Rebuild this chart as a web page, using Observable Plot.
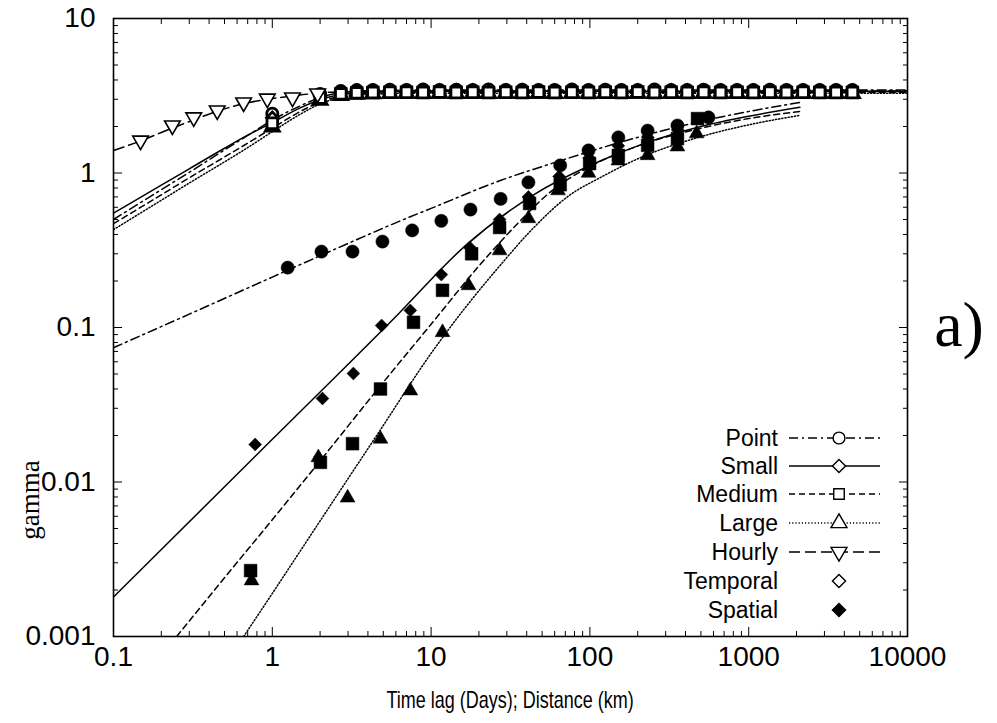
<!DOCTYPE html>
<html><head><meta charset="utf-8">
<script src="https://cdn.jsdelivr.net/npm/d3@7"></script>
<script src="https://cdn.jsdelivr.net/npm/@observablehq/plot@0.6"></script>
<style>
body{margin:0;background:#fff;}
#wrap{position:relative;width:997px;height:723px;}
#overlay{position:absolute;left:0;top:0;pointer-events:none;}
</style></head><body><div id="wrap"></div>
<script>
// ---- tick labels ----
const xMajor = [0.1, 1, 10, 100, 1000, 10000];
const yMajor = [0.001, 0.01, 0.1, 1, 10];
const xLabel = "Time lag (Days); Distance (km)";
const yLabel = "gamma";
const panelTag = "a)";
const legendNames = ["Point", "Small", "Medium", "Large", "Hourly", "Temporal", "Spatial"];

// ---- temporal (open markers) ----
const temporalX = [1, 2, 2.7, 3.4, 4.3, 5.5, 7, 8.9, 11.3, 14.4, 18.3, 23, 29.5, 37.5, 47.5, 60, 77, 98, 125, 158, 200, 255, 325, 410, 520, 665, 845, 1070, 1360, 1730, 2200, 2800, 3550, 4500];
const pointTemporalY  = [2.42, 3.25, 3.4, 3.44, 3.45, 3.46, 3.45, 3.47, 3.45, 3.46, 3.45, 3.47, 3.45, 3.46, 3.45, 3.45, 3.47, 3.45, 3.46, 3.45, 3.45, 3.47, 3.45, 3.45, 3.46, 3.45, 3.45, 3.45, 3.46, 3.45, 3.45, 3.45, 3.45, 3.45];
const smallTemporalY  = [2.28, 3.15, 3.33, 3.37, 3.38, 3.39, 3.38, 3.39, 3.4, 3.38, 3.39, 3.38, 3.39, 3.38, 3.4, 3.38, 3.39, 3.38, 3.39, 3.38, 3.4, 3.38, 3.39, 3.38, 3.39, 3.38, 3.39, 3.38, 3.39, 3.38, 3.39, 3.38, 3.38, 3.38];
const mediumTemporalY = [2.1, 3.05, 3.25, 3.3, 3.32, 3.33, 3.33, 3.32, 3.34, 3.32, 3.33, 3.32, 3.33, 3.32, 3.34, 3.32, 3.33, 3.32, 3.33, 3.32, 3.34, 3.32, 3.33, 3.32, 3.33, 3.32, 3.33, 3.32, 3.33, 3.32, 3.33, 3.32, 3.32, 3.32];
const largeTemporalY  = [1.98, 2.95, 3.17, 3.23, 3.26, 3.27, 3.28, 3.27, 3.28, 3.27, 3.28, 3.27, 3.28, 3.27, 3.28, 3.27, 3.28, 3.27, 3.28, 3.27, 3.28, 3.27, 3.28, 3.27, 3.28, 3.27, 3.28, 3.27, 3.28, 3.27, 3.28, 3.27, 3.27, 3.27];
const hourlyX = [0.148, 0.235, 0.32, 0.45, 0.66, 0.93, 1.34, 1.93];
const hourlyY = [1.62, 2.03, 2.29, 2.54, 2.86, 3.03, 3.08, 3.27];

// ---- spatial (filled markers) ----
const pointSpatialX  = [1.25, 2.04, 3.2, 4.94, 7.6, 11.6, 17.7, 27.4, 41, 65, 98, 151, 231, 356, 558];
const pointSpatialY  = [0.244, 0.31, 0.31, 0.36, 0.425, 0.49, 0.58, 0.68, 0.87, 1.12, 1.4, 1.7, 1.88, 2.03, 2.29];
const smallSpatialX  = [0.78, 2.07, 3.24, 4.88, 7.4, 11.6, 17.5, 27, 41, 64, 99, 151, 232, 357];
const smallSpatialY  = [0.0175, 0.0347, 0.0504, 0.103, 0.129, 0.22, 0.33, 0.5, 0.7, 0.95, 1.25, 1.5, 1.7, 1.9];
const mediumSpatialX = [0.73, 2.01, 3.2, 4.8, 7.75, 11.8, 18, 27, 41.7, 65, 99.6, 151, 231, 356, 476];
const mediumSpatialY = [0.00267, 0.0134, 0.0177, 0.04, 0.108, 0.174, 0.3, 0.444, 0.635, 0.84, 1.15, 1.3, 1.51, 1.67, 2.25];
const largeSpatialX  = [0.74, 1.95, 2.98, 4.8, 7.4, 11.8, 17.2, 27, 41, 63, 98, 151, 231, 356, 470];
const largeSpatialY  = [0.0023, 0.0144, 0.0079, 0.019, 0.039, 0.093, 0.187, 0.315, 0.508, 0.77, 1.0, 1.2, 1.3, 1.48, 1.8];

// ---- fitted curves ----
const tempFitX = [0.1, 0.2, 0.3, 0.5, 0.7, 1, 1.5, 2, 3, 5, 10, 100, 10000];
const pointTempFitY  = [0.5, 0.78, 1.01, 1.41, 1.75, 2.2, 2.72, 3.08, 3.36, 3.43, 3.44, 3.44, 3.44];
const smallTempFitY  = [0.55, 0.834, 1.064, 1.446, 1.757, 2.12, 2.64, 2.98, 3.27, 3.36, 3.38, 3.38, 3.38];
const mediumTempFitY = [0.47, 0.722, 0.931, 1.27, 1.56, 1.95, 2.5, 2.88, 3.2, 3.3, 3.33, 3.33, 3.33];
const largeTempFitY  = [0.43, 0.666, 0.861, 1.18, 1.46, 1.85, 2.4, 2.8, 3.14, 3.25, 3.28, 3.28, 3.28];
const hourlyFitX = [0.1, 0.15, 0.2, 0.3, 0.5, 0.7, 1, 1.5, 2, 3, 5, 10000];
const hourlyFitY = [1.4, 1.62, 1.83, 2.15, 2.6, 2.85, 3.03, 3.2, 3.3, 3.36, 3.39, 3.4];

const pointSpFitX  = [0.1, 0.3, 1, 3, 6.4, 10, 27, 65, 208, 600, 2100];
const pointSpFitY  = [0.074, 0.122, 0.212, 0.35, 0.49, 0.59, 0.89, 1.2, 1.72, 2.25, 2.86];
const smallSpFitX  = [0.1, 1, 6.2, 16, 44, 117, 208, 500, 1000, 2100];
const smallSpFitY  = [0.0018, 0.0189, 0.122, 0.33, 0.72, 1.2, 1.52, 2.0, 2.33, 2.66];
const mediumSpFitX = [0.25, 0.5, 1, 2, 4.8, 10, 20, 35, 56, 100, 188, 500, 1000, 2100];
const mediumSpFitY = [0.001, 0.0024, 0.0057, 0.0137, 0.042, 0.105, 0.25, 0.47, 0.75, 1.1, 1.46, 1.95, 2.25, 2.5];
const largeSpFitX  = [0.66, 1, 2, 4.6, 10, 16, 27, 44, 72, 120, 188, 500, 1000, 2100];
const largeSpFitY  = [0.001, 0.0019, 0.0056, 0.0204, 0.068, 0.13, 0.25, 0.44, 0.7, 0.95, 1.2, 1.72, 2.05, 2.36];

// ---- build ----
const rows = (xs, ys) => xs.map((x, i) => ({x, y: ys[i]}));
const minorOf = (lo, hi) => { const out = []; for (let d = lo; d < hi; d *= 10) for (let k = 2; k <= 9; k++) out.push(+(d * k).toPrecision(3)); return out; };
const xMinor = minorOf(0.1, 10000);
const yMinor = minorOf(0.001, 10);

const sans = "'Liberation Sans', Arial, Helvetica, sans-serif";
const serif = "'Liberation Serif', 'Times New Roman', serif";

const dash = {point: "9,4,2,4", small: null, medium: "6,4", large: "1.2,2", hourly: "11,5"};
const lineOpt = (d) => ({x: "x", y: "y", stroke: "black", strokeWidth: 1.5, strokeDasharray: d, curve: "monotone-x", clip: true});

const openDot = (data, symbol, r, extra = {}) => Plot.dot(data, {x: "x", y: "y", symbol, r, fill: "white", stroke: "black", strokeWidth: 2.8, ...extra});
const fillDot = (data, symbol, r) => Plot.dot(data, {x: "x", y: "y", symbol, r, fill: "black", stroke: "black", strokeWidth: 0.5});

const blank = () => "";

const chart = Plot.plot({
  width: 997, height: 723,
  marginLeft: 113, marginRight: 90, marginTop: 18, marginBottom: 87,
  x: {type: "log", domain: [0.1, 10000]},
  y: {type: "log", domain: [0.001, 10]},
  style: {background: "white", fontFamily: sans, color: "black"},
  marks: [
    // fits
    Plot.line(rows(tempFitX, pointTempFitY), lineOpt(dash.point)),
    Plot.line(rows(tempFitX, smallTempFitY), lineOpt(dash.small)),
    Plot.line(rows(tempFitX, mediumTempFitY), lineOpt(dash.medium)),
    Plot.line(rows(tempFitX, largeTempFitY), lineOpt(dash.large)),
    Plot.line(rows(hourlyFitX, hourlyFitY), lineOpt(dash.hourly)),
    Plot.line(rows(pointSpFitX, pointSpFitY), lineOpt(dash.point)),
    Plot.line(rows(smallSpFitX, smallSpFitY), lineOpt(dash.small)),
    Plot.line(rows(mediumSpFitX, mediumSpFitY), lineOpt(dash.medium)),
    Plot.line(rows(largeSpFitX, largeSpFitY), lineOpt(dash.large)),
    // temporal markers
    openDot(rows(temporalX, pointTemporalY), "circle", 5.6),
    openDot(rows(temporalX, smallTemporalY), "diamond2", 5.2),
    openDot(rows(temporalX, largeTemporalY), "triangle", 5.2),
    openDot(rows(temporalX, mediumTemporalY), "square", 6),
    openDot(rows(hourlyX, hourlyY), "triangle", 5.8, {rotate: 180, strokeWidth: 1.6}),
    // spatial markers
    fillDot(rows(smallSpatialX, smallSpatialY), "diamond2", 5.8),
    fillDot(rows(largeSpatialX, largeSpatialY), "triangle", 5.5),
    fillDot(rows(mediumSpatialX, mediumSpatialY), "square", 7.2),
    fillDot(rows(pointSpatialX, pointSpatialY), "circle", 6.6),
    // frame + inward ticks
    Plot.frame({stroke: "black", strokeWidth: 1.6}),
    Plot.axisX(xMajor, {anchor: "bottom", tickSize: -9, tickFormat: blank, label: null}),
    Plot.axisX(xMinor, {anchor: "bottom", tickSize: -5, tickFormat: blank, label: null}),
    Plot.axisX(xMajor, {anchor: "top", tickSize: -9, tickFormat: blank, label: null}),
    Plot.axisX(xMinor, {anchor: "top", tickSize: -5, tickFormat: blank, label: null}),
    Plot.axisY(yMajor, {anchor: "left", tickSize: -9, tickFormat: blank, label: null}),
    Plot.axisY(yMinor, {anchor: "left", tickSize: -5, tickFormat: blank, label: null}),
    Plot.axisY(yMajor, {anchor: "right", tickSize: -9, tickFormat: blank, label: null}),
    Plot.axisY(yMinor, {anchor: "right", tickSize: -5, tickFormat: blank, label: null}),
    // tick labels
    Plot.axisX(xMajor, {anchor: "bottom", tickSize: 0, tickPadding: 10, fontSize: 28, tickFormat: d => String(d), label: null, ariaLabel: "xlabels"}),
    Plot.axisY(yMajor, {anchor: "left", tickSize: 0, tickPadding: 18, fontSize: 28, tickFormat: d => String(d), label: null, ariaLabel: "ylabels"})
  ]
});
// condense tick label glyphs horizontally (the original uses a narrow face)
d3.select(chart).selectAll("g[aria-label='xlabels'] text, g[aria-label='ylabels'] text")
  .attr("transform", function () { return (this.getAttribute("transform") || "") + " scale(0.84,1)"; });

const wrap = document.getElementById("wrap");
wrap.appendChild(chart);

// ---- overlay: titles, panel tag and legend ----
const ov = d3.select(wrap).append("svg").attr("id", "overlay").attr("width", 997).attr("height", 723);
ov.append("text").attr("transform", "translate(510,700) scale(0.75,1)").attr("text-anchor", "middle").attr("dy", "0.35em")
  .attr("fill", "black").attr("font-family", sans).attr("font-size", 24).text(xLabel);
ov.append("text").attr("transform", "translate(30,500) rotate(-90)").attr("text-anchor", "middle").attr("dy", "0.35em")
  .attr("fill", "black").attr("font-family", serif).attr("font-size", 27).text(yLabel);
ov.append("text").attr("x", 959).attr("y", 327).attr("text-anchor", "middle").attr("dy", "0.3em")
  .attr("fill", "black").attr("font-family", serif).attr("font-size", 64).text(panelTag);

const legendSpec = [
  {name: legendNames[0], dash: dash.point, sym: d3.symbolCircle, fill: "white", line: true, rot: 0},
  {name: legendNames[1], dash: dash.small, sym: d3.symbolDiamond2, fill: "white", line: true, rot: 0},
  {name: legendNames[2], dash: dash.medium, sym: d3.symbolSquare, fill: "white", line: true, rot: 0},
  {name: legendNames[3], dash: dash.large, sym: d3.symbolTriangle, fill: "white", line: true, rot: 0},
  {name: legendNames[4], dash: dash.hourly, sym: d3.symbolTriangle, fill: "white", line: true, rot: 180},
  {name: legendNames[5], dash: null, sym: d3.symbolDiamond2, fill: "white", line: false, rot: 0},
  {name: legendNames[6], dash: null, sym: d3.symbolDiamond2, fill: "black", line: false, rot: 0}
];
const rowY = [438, 466, 494, 523, 552, 581, 610];
legendSpec.forEach((s, i) => {
  const g = ov.append("g").attr("transform", `translate(0,${rowY[i]})`);
  g.append("text").attr("x", 778).attr("y", 0).attr("dy", "0.35em").attr("text-anchor", "end")
    .attr("fill", "black").attr("font-family", sans).attr("font-size", 23).text(s.name);
  if (s.line) g.append("line").attr("x1", 789).attr("x2", 880).attr("y1", 0).attr("y2", 0)
    .attr("stroke", "black").attr("stroke-width", 1.4).attr("stroke-dasharray", s.dash);
  g.append("path").attr("d", d3.symbol(s.sym, 110)())
    .attr("transform", `translate(839,0) rotate(${s.rot})`)
    .attr("fill", s.fill).attr("stroke", "black").attr("stroke-width", 1.4);
});
</script></body></html>
